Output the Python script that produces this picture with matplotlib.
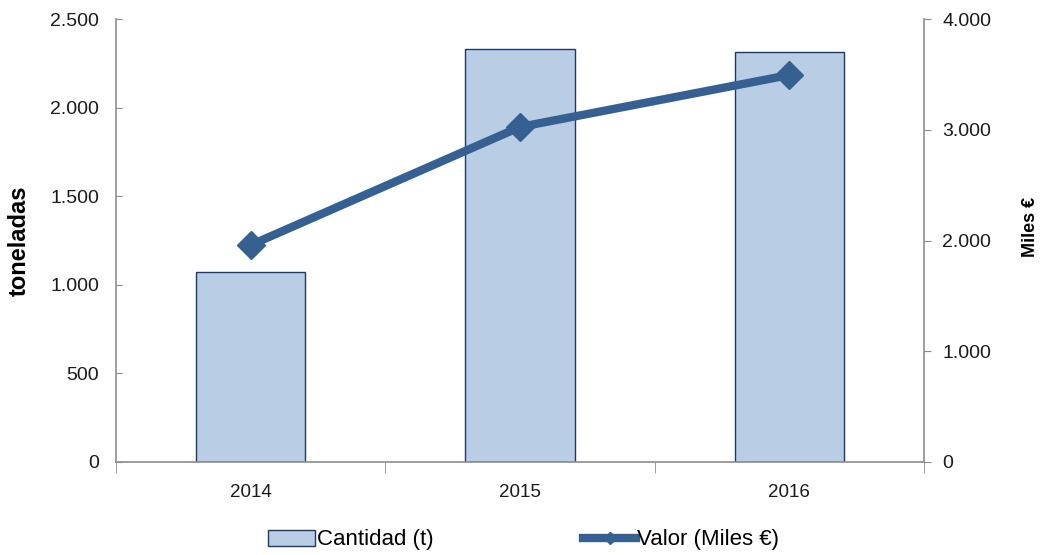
import matplotlib
matplotlib.use("Agg")
import matplotlib.pyplot as plt
from matplotlib.ticker import FuncFormatter, FixedLocator
from matplotlib.lines import Line2D
from matplotlib.patches import Patch

years = ["2014", "2015", "2016"]
cantidad = [1072, 2331, 2314]
valor = [1959, 3025, 3494]

plt.rcParams['font.family'] = ['Liberation Sans', 'DejaVu Sans']

bar_face = "#B9CDE5"
bar_edge = "#1F3864"
line_col = "#376092"
axis_col = "#8C8C8C"

fig = plt.figure(figsize=(10.4, 5.55), dpi=100)
ax = fig.add_axes([116/1040, 1-462/555, (924-116)/1040, (462-19)/555])
x = list(range(len(years)))
ax.bar(x, cantidad, width=0.405, color=bar_face, edgecolor=bar_edge, linewidth=1.0, zorder=2)
ax.set_xlim(-0.5, 2.5)
ax.set_ylim(0, 2500)
ax.set_yticks([0, 500, 1000, 1500, 2000, 2500])
fmt = FuncFormatter(lambda v, p: f"{int(v):,}".replace(",", "."))
ax.yaxis.set_major_formatter(fmt)
ax.set_xticks(x)
ax.set_xticklabels(years)
ax.xaxis.set_minor_locator(FixedLocator([-0.5, 0.5, 1.5, 2.5]))
ax.tick_params(axis='x', which='major', length=0, pad=16, labelsize=13.5, colors='#1a1a1a')
ax.tick_params(axis='x', which='minor', length=8, direction='out', color=axis_col)
ax.tick_params(axis='y', length=4, direction='in', color=axis_col, labelsize=14, labelcolor='#1a1a1a', pad=12)
for s in ['top', 'right']:
    ax.spines[s].set_visible(False)
for s in ['left', 'bottom']:
    ax.spines[s].set_color(axis_col)
    ax.spines[s].set_linewidth(1.2)
ax.set_ylabel("toneladas", fontsize=17, fontweight='bold', labelpad=14)

ax2 = ax.twinx()
ax2.plot(x, valor, color=line_col, linewidth=6, marker='D', markersize=14,
         markeredgecolor=line_col, zorder=3)
ax2.set_ylim(0, 4000)
ax2.set_yticks([0, 1000, 2000, 3000, 4000])
ax2.yaxis.set_major_formatter(fmt)
ax2.tick_params(axis='y', length=5, direction='out', color=axis_col, labelsize=14, labelcolor='#1a1a1a', pad=8)
for s in ['top', 'left', 'bottom']:
    ax2.spines[s].set_visible(False)
ax2.spines['right'].set_color(axis_col)
ax2.spines['right'].set_linewidth(1.2)
ax2.set_ylabel("Miles €", fontsize=13, fontweight='bold', labelpad=22)
ax2.yaxis.label.set_y((462 - 227) / 443)

leg_y = 1 - 540/555
l1 = fig.legend([Patch(facecolor=bar_face, edgecolor=bar_edge, linewidth=1.0)], ["Cantidad (t)"],
                loc='center left', bbox_to_anchor=(268/1040, leg_y), frameon=False,
                fontsize=16, handlelength=2.1, handletextpad=0.1, borderpad=0, borderaxespad=0)
l2 = fig.legend([Line2D([0], [0], color=line_col, linewidth=6, marker='D', markersize=6)],
                ["Valor (Miles €)"],
                loc='center left', bbox_to_anchor=(583/1040, leg_y), frameon=False,
                fontsize=16, handlelength=2.4, handletextpad=0.05, borderpad=0, borderaxespad=0)

fig.savefig("out.png", dpi=100)
